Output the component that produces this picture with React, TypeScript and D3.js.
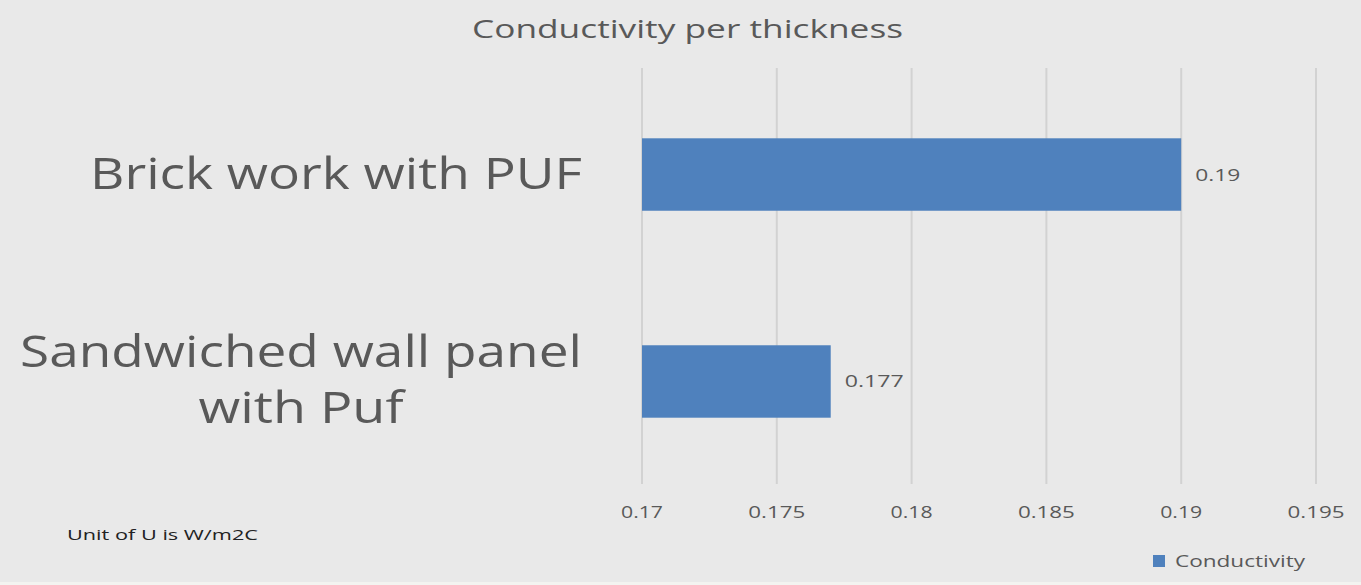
import React from "react";
import * as d3 from "d3";

const categories = ["Brick work with PUF", "Sandwiched wall panel with Puf"];
const categoryLines = [["Brick work with PUF"], ["Sandwiched wall panel", "with Puf"]];
const values = [0.19, 0.177];
const valueLabels = ["0.19", "0.177"];
const ticks = [0.17, 0.175, 0.18, 0.185, 0.19, 0.195];
const tickLabels = ["0.17", "0.175", "0.18", "0.185", "0.19", "0.195"];
const title = "Conductivity per thickness";
const seriesName = "Conductivity";
const note = "Unit of U is W/m2C";

const W = 1361;
const H = 585;
const FONT = "'Open Sans', 'DejaVu Sans', sans-serif";
const TEXT = "#595959";

export default function App() {
  const x = d3.scaleLinear().domain([0.17, 0.195]).range([642, 1316]);
  const y = d3
    .scaleBand<string>()
    .domain(categories)
    .range([70, 486])
    .paddingInner(0.65)
    .paddingOuter(0.33);
  const bw = y.bandwidth();

  const lineWidths = [[492], [562, 205]];

  return (
    <svg
      width={W}
      height={H}
      style={{ position: "absolute", left: 0, top: 0 }}
      fontFamily={FONT}
    >
      <rect x={0} y={0} width={W} height={H} fill="#e9e9e9" />
      <rect x={0} y={582} width={W} height={3} fill="#f3f3f0" />
      <text
        x={687.5}
        y={38}
        textAnchor="middle"
        fontSize={26}
        fill={TEXT}
        textLength={431}
        lengthAdjust="spacingAndGlyphs"
      >
        {title}
      </text>
      {ticks.map((t, i) => (
        <g key={i}>
          <line x1={x(t)} x2={x(t)} y1={68} y2={484} stroke="#d2d2d2" strokeWidth={2} />
          <text
            x={x(t)}
            y={518}
            textAnchor="middle"
            fontSize={16}
            fill={TEXT}
            textLength={tickLabels[i].length > 4 ? 57 : 42}
            lengthAdjust="spacingAndGlyphs"
          >
            {tickLabels[i]}
          </text>
        </g>
      ))}
      {categories.map((c, i) => {
        const y0 = y(c) as number;
        return (
          <g key={c}>
            <rect x={x(0.17)} y={y0} width={x(values[i]) - x(0.17)} height={bw} fill="#4f81bd" />
            <text
              x={x(values[i]) + 14}
              y={y0 + bw / 2 + 6}
              fontSize={16}
              fill={TEXT}
              textLength={valueLabels[i].length > 4 ? 59 : 45}
              lengthAdjust="spacingAndGlyphs"
            >
              {valueLabels[i]}
            </text>
          </g>
        );
      })}
      {categoryLines.map((lines, i) => {
        const cy = (y(categories[i]) as number) + bw / 2;
        const lh = 56;
        const n = lines.length;
        const blockW = Math.max(...lineWidths[i]);
        const cx = 582 - blockW / 2;
        return lines.map((l, j) => (
          <text
            key={i + "-" + j}
            x={cx}
            y={cy + (j - (n - 1) / 2) * lh + 14}
            textAnchor="middle"
            fontSize={44}
            fill={TEXT}
            textLength={lineWidths[i][j]}
            lengthAdjust="spacingAndGlyphs"
          >
            {l}
          </text>
        ));
      })}
      <text x={67} y={540} fontSize={14} fill="#222" textLength={191} lengthAdjust="spacingAndGlyphs">
        {note}
      </text>
      <rect x={1153} y={555} width={12} height={12} fill="#4f81bd" />
      <text x={1175} y={567} fontSize={16} fill={TEXT} textLength={130} lengthAdjust="spacingAndGlyphs">
        {seriesName}
      </text>
    </svg>
  );
}
